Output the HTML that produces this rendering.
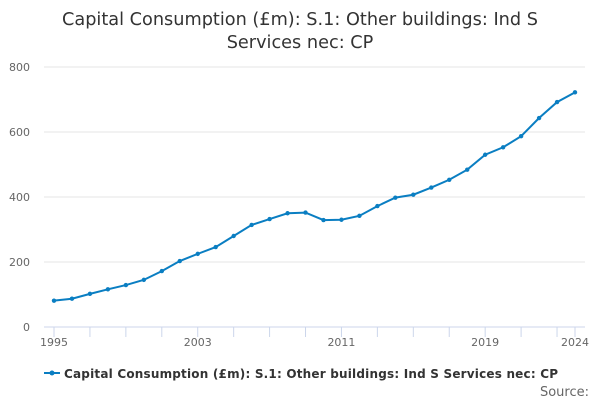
<!DOCTYPE html>
<html><head><meta charset="utf-8"><style>
body{margin:0;background:#fff;font-family:"Liberation Sans","DejaVu Sans",sans-serif}
svg text{font-family:"DejaVu Sans","Liberation Sans",sans-serif}
</style></head><body>
<svg id="c" width="600" height="400">
<text x="300" y="25" text-anchor="middle" font-size="17.7" fill="#333">Capital Consumption (£m): S.1: Other buildings: Ind S</text>
<text x="300" y="48" text-anchor="middle" font-size="17.7" fill="#333">Services nec: CP</text>
<g id="grid"></g><g id="xax"></g><g id="series"></g>
<g>
<line x1="44" y1="373" x2="60" y2="373" stroke="#0a7ec2" stroke-width="2"/>
<circle cx="52" cy="373" r="2.5" fill="#0a7ec2"/>
<text x="64" y="378" font-size="12" font-weight="bold" fill="#333" textLength="494">Capital Consumption (£m): S.1: Other buildings: Ind S Services nec: CP</text>
</g>
<text x="589" y="396" text-anchor="end" font-size="13" fill="#666">Source:</text>
</svg>
<script>
const years=[1995,1996,1997,1998,1999,2000,2001,2002,2003,2004,2005,2006,2007,2008,2009,2010,2011,2012,2013,2014,2015,2016,2017,2018,2019,2020,2021,2022,2023,2024];
const values=[81,87,102,116,129,145,172,203,225,246,280,314,332,350,352,329,330,342,372,398,407,429,453,484,530,553,587,643,692,722];
const yTicks=[0,200,400,600,800];
const xLabels=[1995,2003,2011,2019,2024];
const NS="http://www.w3.org/2000/svg";
const X=y=>54+(y-1995)*(575-54)/29;
const Y=v=>327-v*0.325;
function mk(t,a,p){const e=document.createElementNS(NS,t);for(const k in a)e.setAttribute(k,a[k]);p.appendChild(e);return e;}
const g=document.getElementById('grid');
yTicks.forEach(v=>{
 const l=mk('line',{x1:44,x2:585,y1:Y(v),y2:Y(v),stroke:v?'#e6e6e6':'#ccd6eb'},g);
 
 
 const t=mk('text',{x:30,y:Y(v)+4,'text-anchor':'end','font-size':11,fill:'#666'},g);
 t.textContent=v;
 
 
});
const xa=document.getElementById('xax');
for(let y=1995;y<=2024;y+=2){
 const l=mk('line',{x1:X(y),x2:X(y),y1:327,y2:337,stroke:'#ccd6eb'},xa);
 
 
}
const l24=mk('line',{x1:X(2024),x2:X(2024),y1:327,y2:337,stroke:'#ccd6eb'},xa);


xLabels.forEach(y=>{
 const t=mk('text',{x:X(y),y:346,'text-anchor':'middle','font-size':11,fill:'#666'},xa);
 t.textContent=y;
 
 
});
const s=document.getElementById('series');
const p=mk('polyline',{points:years.map((y,i)=>X(y)+','+Y(values[i])).join(' '),fill:'none',stroke:'#0a7ec2','stroke-width':2},s);


years.forEach((y,i)=>{
 const c=mk('circle',{cx:X(y),cy:Y(values[i]),r:2.2,fill:'#0a7ec2'},s);
 
 
});
</script>
</body></html>
